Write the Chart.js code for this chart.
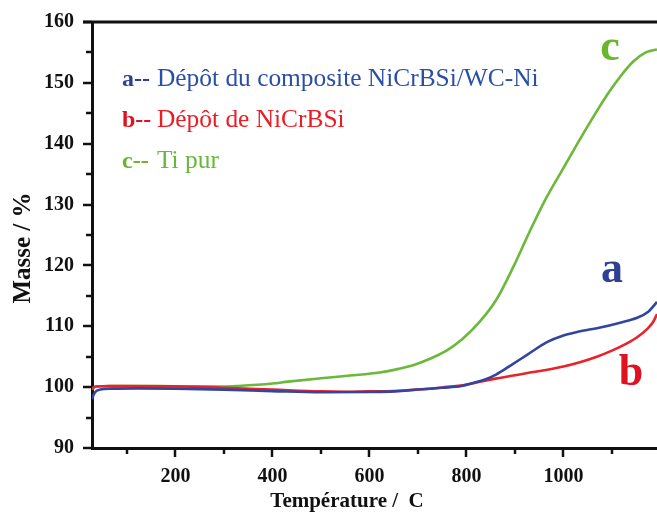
<!DOCTYPE html>
<html><head><meta charset="utf-8">
<script src="https://cdn.jsdelivr.net/npm/chart.js@4"></script>
<style>html,body{margin:0;padding:0;background:#fff;overflow:hidden}</style>
</head><body>
<canvas id="c" width="657" height="515"></canvas>
<script>
// ---- data ----
const tempA = [28, 31, 36, 45, 70, 120, 200, 300, 400, 500, 600, 650, 700, 750, 790, 814, 840, 862, 890, 925, 966, 1000, 1030, 1076, 1117, 1152, 1175, 1193];
const massA = [98.0, 98.7, 99.3, 99.6, 99.75, 99.8, 99.75, 99.6, 99.35, 99.15, 99.2, 99.3, 99.6, 99.9, 100.2, 100.7, 101.3, 102.1, 103.5, 105.3, 107.4, 108.5, 109.1, 109.8, 110.6, 111.4, 112.4, 114.0];

const tempB = [28, 31, 36, 50, 100, 200, 300, 400, 500, 550, 600, 650, 700, 750, 800, 828, 860, 897, 931, 970, 1000, 1034, 1069, 1100, 1131, 1152, 1172, 1185, 1193];
const massB = [99.6, 99.9, 100.1, 100.15, 100.2, 100.15, 99.9, 99.6, 99.3, 99.25, 99.3, 99.35, 99.6, 99.95, 100.4, 100.9, 101.4, 101.9, 102.4, 102.9, 103.4, 104.1, 105.0, 106.0, 107.2, 108.2, 109.5, 110.7, 112.0];

const tempC = [28, 31, 36, 50, 100, 200, 300, 330, 400, 432, 500, 560, 621, 660, 690, 720, 759, 793, 828, 862, 897, 930, 962, 1000, 1048, 1090, 1117, 1144, 1170, 1193];
const massC = [99.6, 99.9, 100.1, 100.15, 100.2, 100.15, 100.1, 100.2, 100.6, 100.9, 101.45, 101.9, 102.4, 103.0, 103.6, 104.5, 106.0, 108.0, 110.8, 114.4, 119.8, 125.5, 130.7, 136.0, 142.6, 148.0, 151.0, 153.5, 155.0, 155.5];

const seriesKeys = ['a', 'b', 'c'];
const seriesNames = ['Dépôt du composite NiCrBSi/WC-Ni', 'Dépôt de NiCrBSi', 'Ti pur'];
const xMajorTicks = [200, 400, 600, 800, 1000];
const xMinorTicks = [100, 300, 500, 700, 900, 1100];
const yMajorTicks = [90, 100, 110, 120, 130, 140, 150, 160];
const yMinorTicks = [95, 105, 115, 125, 135, 145, 155];
const xTitle = 'Température /  C';
const yTitle = 'Masse / %';

// ---- styles ----
const lineColors = ['#3445a0', '#e8232b', '#6bb83a'];
const textColors = ['#2a4fa6', '#ec1c24', '#66b93a'];
const markColors = ['#2e3f94', '#de1220', '#69b52d'];
const SERIF = '"Liberation Serif", "Times New Roman", serif';

const toPts = (xs, ys) => xs.map((x, i) => ({x, y: ys[i]}));

const decor = {
  id: 'decor',
  afterDraw(chart) {
    const {ctx, chartArea: a, scales: {x, y}} = chart;
    ctx.save();
    ctx.strokeStyle = '#111';
    ctx.lineWidth = 2.5;
    ctx.lineCap = 'butt';
    const tick = (x1, y1, x2, y2) => { ctx.beginPath(); ctx.moveTo(x1, y1); ctx.lineTo(x2, y2); ctx.stroke(); };
    yMajorTicks.forEach(v => { const p = Math.round(y.getPixelForValue(v)); tick(a.left - 9, p, a.left, p); });
    yMinorTicks.forEach(v => { const p = Math.round(y.getPixelForValue(v)); tick(a.left - 6, p, a.left, p); });
    xMajorTicks.forEach(v => { const p = Math.round(x.getPixelForValue(v)); tick(p, a.bottom, p, a.bottom + 9); });
    xMinorTicks.forEach(v => { const p = Math.round(x.getPixelForValue(v)); tick(p, a.bottom, p, a.bottom + 6); });
    ctx.lineWidth = 3;
    tick(a.left - 9, a.top, chart.width, a.top);

    // axis titles
    ctx.fillStyle = '#111';
    ctx.font = 'bold 21px ' + SERIF;
    ctx.textAlign = 'center';
    ctx.textBaseline = 'middle';
    ctx.fillText(xTitle, 347, 502);
    ctx.save();
    ctx.translate(24, 248);
    ctx.rotate(-Math.PI / 2);
    ctx.font = 'bold 25px ' + SERIF;
    ctx.fillText(yTitle, 0, 0);
    ctx.restore();

    // legend
    const rows = [86, 127, 168];
    ctx.textAlign = 'left';
    ctx.textBaseline = 'alphabetic';
    seriesKeys.forEach((k, i) => {
      ctx.font = 'bold 24px ' + SERIF;
      ctx.fillStyle = markColors[i];
      ctx.fillText(k + '--', 122, rows[i]);
      ctx.font = '25.4px ' + SERIF;
      ctx.fillStyle = textColors[i];
      ctx.fillText(seriesNames[i], 157, rows[i]);
    });
    // curve letters
    ctx.font = 'bold 44px ' + SERIF;
    ctx.textAlign = 'center';
    ctx.fillStyle = markColors[2]; ctx.fillText('c', 610, 60);
    ctx.fillStyle = markColors[0]; ctx.fillText('a', 612, 282);
    ctx.fillStyle = markColors[1]; ctx.fillText('b', 631, 385);
    ctx.restore();
  }
};

new Chart(document.getElementById('c'), {
  type: 'line',
  data: {
    datasets: [
      {label: seriesNames[0], data: toPts(tempA, massA), borderColor: lineColors[0]},
      {label: seriesNames[1], data: toPts(tempB, massB), borderColor: lineColors[1]},
      {label: seriesNames[2], data: toPts(tempC, massC), borderColor: lineColors[2]}
    ]
  },
  options: {
    responsive: false,
    animation: false,
    devicePixelRatio: 1,
    layout: {padding: {top: 22, right: 0, bottom: 0, left: 0}},
    elements: {
      point: {radius: 0},
      line: {borderWidth: 2.6, tension: 0.4, cubicInterpolationMode: 'monotone', fill: false}
    },
    plugins: {legend: {display: false}, tooltip: {enabled: false}},
    scales: {
      x: {
        type: 'linear', min: 28, max: 1193,
        afterBuildTicks: s => { s.ticks = xMajorTicks.map(v => ({value: v})); },
        afterFit: s => { s.height = 67; s.paddingLeft = 0; s.paddingRight = 0; },
        grid: {display: false, drawTicks: false},
        border: {display: true, color: '#111', width: 3},
        ticks: {color: '#111', padding: 17, maxRotation: 0, callback: v => String(v), font: {family: SERIF, size: 20, weight: 'bold'}},
        title: {display: false}
      },
      y: {
        min: 90, max: 160,
        afterBuildTicks: s => { s.ticks = yMajorTicks.map(v => ({value: v})); },
        afterFit: s => { s.width = 92; s.paddingTop = 0; s.paddingBottom = 0; },
        grid: {display: false, drawTicks: false},
        border: {display: true, color: '#111', width: 3},
        ticks: {color: '#111', padding: 18, callback: v => String(v), font: {family: SERIF, size: 20, weight: 'bold'}},
        title: {display: false}
      }
    }
  },
  plugins: [decor]
});
</script>
</body></html>
